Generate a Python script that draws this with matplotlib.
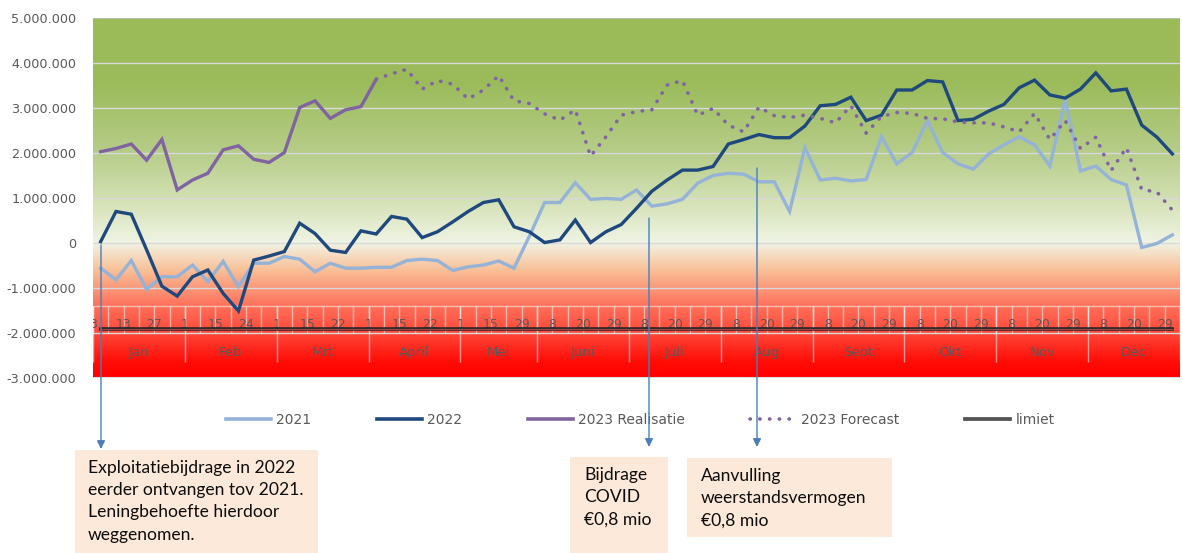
import numpy as np
import matplotlib
matplotlib.use("Agg")
import matplotlib.pyplot as plt
from matplotlib.lines import Line2D
from matplotlib.patches import Rectangle
from matplotlib.ticker import FuncFormatter
import matplotlib.patheffects as pe

# weekly values in millions of euro (71 weeks)
vals_2021 = [-0.56, -0.82, -0.39, -1.03, -0.75, -0.75, -0.49, -0.86, -0.41, -0.97,
             -0.45, -0.45, -0.30, -0.36, -0.64, -0.45, -0.56, -0.56, -0.54, -0.54,
             -0.39, -0.36, -0.39, -0.61, -0.53, -0.49, -0.40, -0.56, 0.15, 0.90,
             0.90, 1.34, 0.97, 0.99, 0.97, 1.18, 0.82, 0.87, 0.97, 1.33,
             1.50, 1.55, 1.53, 1.36, 1.36, 0.70, 2.12, 1.40, 1.44, 1.38,
             1.41, 2.36, 1.76, 2.01, 2.72, 2.01, 1.76, 1.64, 1.98, 2.18,
             2.36, 2.18, 1.71, 3.19, 1.60, 1.71, 1.41, 1.29, -0.10, -0.01, 0.18]
vals_2022 = [0.03, 0.70, 0.64, -0.15, -0.96, -1.18, -0.75, -0.60, -1.12, -1.51,
             -0.38, -0.29, -0.19, 0.44, 0.21, -0.16, -0.21, 0.27, 0.20, 0.59,
             0.53, 0.12, 0.25, 0.47, 0.70, 0.90, 0.96, 0.36, 0.25, 0.01,
             0.07, 0.51, 0.01, 0.25, 0.41, 0.77, 1.15, 1.40, 1.62, 1.62,
             1.70, 2.20, 2.30, 2.41, 2.34, 2.34, 2.60, 3.05, 3.08, 3.24,
             2.72, 2.84, 3.40, 3.40, 3.61, 3.58, 2.72, 2.75, 2.93, 3.08,
             3.45, 3.62, 3.29, 3.22, 3.42, 3.78, 3.38, 3.42, 2.62, 2.35, 1.98]
vals_2023_real = [2.03, 2.10, 2.20, 1.84, 2.30, 1.18, 1.40, 1.55, 2.07, 2.16,
                  1.86, 1.79, 2.01, 3.01, 3.16, 2.77, 2.96, 3.03, 3.64]
forecast_start = 18
vals_2023_fc = [3.64, 3.76, 3.86, 3.42, 3.61, 3.53, 3.20, 3.40, 3.72, 3.16,
                3.10, 2.87, 2.73, 2.96, 1.93, 2.36, 2.84, 2.92, 2.96, 3.51,
                3.61, 2.84, 2.99, 2.62, 2.47, 3.02, 2.83, 2.79, 2.84, 2.77,
                2.67, 3.05, 2.44, 2.81, 2.90, 2.88, 2.77, 2.76, 2.69, 2.67,
                2.67, 2.58, 2.47, 2.88, 2.30, 2.72, 2.10, 2.35, 1.61, 2.12,
                1.19, 1.13, 0.73]
limiet = -1.9

months = ["Jan", "Feb", "Mrt", "April", "Mei", "Juni", "Juli", "Aug", "Sept", "Okt", "Nov", "Dec"]
month_weeks = [6, 6, 6, 6, 5, 6, 6, 6, 6, 6, 6, 6]
week_labels = (["3", "", "13", "", "27", ""] + ["1", "", "15", "", "24", ""]
               + ["1", "", "15", "", "22", ""] + ["1", "", "15", "", "22", ""]
               + ["1", "", "15", "", "29"] + ["", "8", "", "20", "", "29"] * 7)

M = 1_000_000
W, H = 1182, 553
n = len(vals_2022)
x = np.arange(n)

fig = plt.figure(figsize=(W / 100, H / 100), dpi=100)
ax = fig.add_axes([93 / W, 175 / H, 1087 / W, 360 / H])
ax.set_xlim(-0.5, n - 0.5)
ax.set_ylim(-3 * M, 5 * M)

# background gradient (green -> white -> red)
stop_v = [-3.0, -2.65, -2.0, -1.4, -1.0, -0.6, -0.2, 0.0, 1.0, 2.0, 3.5, 5.0]
stop_c = np.array([(255, 0, 0), (255, 12, 6), (255, 72, 56), (255, 112, 90), (250, 152, 120),
                   (249, 192, 152), (245, 226, 202), (240, 244, 228), (210, 224, 178),
                   (183, 205, 138), (156, 188, 92), (155, 187, 89)]) / 255
yy = np.linspace(5, -3, 800)
grad = np.stack([np.interp(yy, stop_v, stop_c[:, k]) for k in range(3)], axis=-1)[:, None, :]
ax.imshow(grad, extent=[-0.5, n - 0.5, -3 * M, 5 * M], aspect="auto", zorder=0)

for v in range(-2, 5):
    ax.axhline(v * M, color="#d9d9d9", lw=1, zorder=1)
ax.axhline(5 * M, color="#bfbfbf", lw=1.2, zorder=1)
ax.axhline(-3 * M, color="#d9d9d9", lw=1.5, zorder=1)

# category band (weeks / months)
ax.hlines(-1.4 * M, -0.5, n - 0.5, color="white", alpha=0.55, lw=1, zorder=1)
ax.vlines(np.arange(n + 1) - 0.5, -2.0 * M, -1.4 * M, color="white", alpha=0.55, lw=1, zorder=1)
edges = np.concatenate([[0], np.cumsum(month_weeks)]) - 0.5
ax.vlines(edges, -2.65 * M, -1.4 * M, color="white", alpha=0.55, lw=1, zorder=1)
for i, lab in enumerate(week_labels):
    if lab:
        ax.text(i - 0.5, -1.82 * M, lab, ha="center", va="center", fontsize=9,
                color="#595959", zorder=2, clip_on=True)
for k, mname in enumerate(months):
    ax.text((edges[k] + edges[k + 1]) / 2, -2.44 * M, mname, ha="center", va="center",
            fontsize=9.5, color="#595959", zorder=2)

# series
ax.plot(x, np.array(vals_2021) * M, color="#95b3d7", lw=2.4, zorder=3, solid_joinstyle="miter")
ax.plot(x, np.array(vals_2022) * M, color="#1f497d", lw=2.4, zorder=4, solid_joinstyle="miter")
ax.plot(x[:len(vals_2023_real)], np.array(vals_2023_real) * M, color="#8064a2", lw=2.4,
        zorder=5, solid_joinstyle="miter")
ax.plot(x[forecast_start:forecast_start + len(vals_2023_fc)], np.array(vals_2023_fc) * M,
        color="#8064a2", lw=2.6, ls=(0, (0.1, 2.6)), dash_capstyle="round", zorder=6)
lim_fx = [pe.Stroke(linewidth=2.6, foreground="#262626"), pe.Normal()]
ax.plot(x, np.full(n, limiet * M), color="#a04545", lw=0.9, zorder=6, path_effects=lim_fx)

ax.set_xticks([])
ax.set_yticks(np.arange(-3, 6) * M)
ax.yaxis.set_major_formatter(FuncFormatter(lambda v, p: f"{v:,.0f}".replace(",", ".")))
ax.tick_params(axis="y", length=0, pad=12, labelsize=9.2, labelcolor="#595959")
for s in ax.spines.values():
    s.set_visible(False)

# legend
handles = [Line2D([], [], color="#95b3d7", lw=2.6),
           Line2D([], [], color="#1f497d", lw=2.6),
           Line2D([], [], color="#8064a2", lw=2.6),
           Line2D([], [], color="#8064a2", lw=2.6, ls=(0, (0.1, 2.6)), dash_capstyle="round"),
           Line2D([], [], color="#595959", lw=1.2,
                  path_effects=[pe.Stroke(linewidth=2.6, foreground="#404040"), pe.Normal()])]
labels = ["2021", "2022", "2023 Realisatie", "2023 Forecast", "limiet"]
fig.legend(handles, labels, loc="center", bbox_to_anchor=(640 / W, 1 - 420 / H), ncol=5,
           frameon=False, fontsize=10, handlelength=3.3, handletextpad=0.35,
           columnspacing=4.7, labelcolor="#595959")

# annotation boxes
boxes = [(75, 450, 243, 103, 88, "Exploitatiebijdrage in 2022\neerder ontvangen tov 2021.\nLeningbehoefte hierdoor\nweggenomen."),
         (570, 457, 98, 96, 584, "Bijdrage\nCOVID\n€0,8 mio"),
         (687, 458, 205, 79, 701, "Aanvulling\nweerstandsvermogen\n€0,8 mio")]
for bx, by, bw, bh, tx, txt in boxes:
    fig.add_artist(Rectangle((bx / W, 1 - (by + bh) / H), bw / W, bh / H,
                             transform=fig.transFigure, facecolor="#fde9d9", edgecolor="none"))
    fig.text(tx / W, 1 - (by + 10) / H, txt, ha="left", va="top", fontsize=12.6,
             family=["Lato", "DejaVu Sans"], color="#0d0d0d", linespacing=1.48)

# arrows
arrows = [(101, 245, 449), (649, 218, 447), (757, 168, 447)]
for ax_x, y0, y1 in arrows:
    fig.add_artist(matplotlib.patches.FancyArrowPatch(
        (ax_x / W, 1 - y0 / H), (ax_x / W, 1 - y1 / H), transform=fig.transFigure,
        arrowstyle="-|>", mutation_scale=12, color="#4a7ebb", lw=1, shrinkA=0, shrinkB=0,
        zorder=10))

fig.savefig("out.png", dpi=100)
